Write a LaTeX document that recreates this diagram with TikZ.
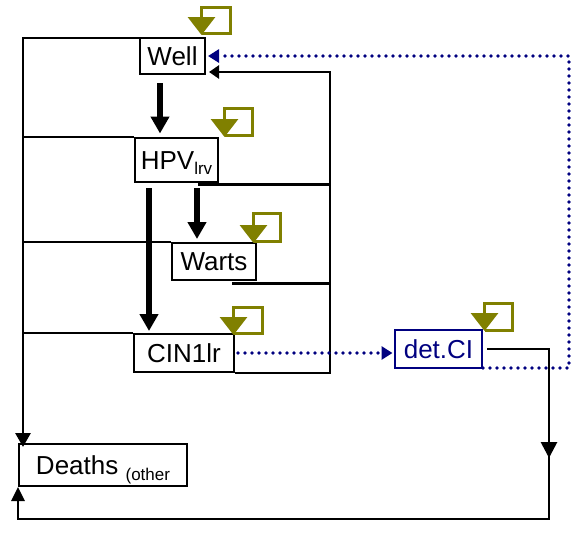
\documentclass[tikz,border=0pt]{standalone}
\usepackage{fontspec}
\setmainfont{Liberation Sans}
\usetikzlibrary{arrows.meta,decorations.markings,calc}
\definecolor{loopolive}{RGB}{128,128,0}
\definecolor{dnavy}{RGB}{0,0,128}
\begin{document}
\begin{tikzpicture}[x=1pt,y=-1pt,
  box/.style={draw=black, line width=2pt, fill=white, inner sep=0pt,
    font=\fontsize{26}{30}\selectfont, text height=18.6pt, text depth=0pt},
  bigarrow/.style={line width=5.5pt, -{Triangle[width=18pt,length=17pt]}},
  conn/.style={line width=2.8pt, line join=miter},
  connarrow/.style={conn, -{Triangle[width=15pt,length=14pt]}},
  retarrow/.style={conn, -{Triangle[width=13pt,length=10pt]}},
  dotline/.style={draw=dnavy, color=dnavy, line width=3.6pt, line cap=round,
    dash pattern=on 0pt off 7pt, -{Triangle[width=13pt,length=11pt]}},
  selfloop/.style={draw=loopolive, color=loopolive, line width=3.2pt, line join=miter,
    -{Triangle[width=27pt,length=18pt]}}
]
\useasboundingbox (0,0) rectangle (586,533);

% boxes
\node[box, minimum width=65pt, minimum height=36pt] (well) at (172.5,56) {Well};
\node[box, minimum width=83pt, minimum height=44pt] (hpv) at (176.5,160)
  {HPV\raisebox{-5pt}{\fontsize{17}{17}\selectfont lrv}};
\node[box, minimum width=84pt, minimum height=37pt] (warts) at (214,261.5) {Warts};
\node[box, minimum width=100pt, minimum height=38pt] (cin) at (184,353) {CIN1lr};
\node[box, draw=dnavy, text=dnavy, minimum width=87pt, minimum height=38pt] (det) at (438.5,349) {det.CI};
\node[box, minimum width=168pt, minimum height=42pt] (deaths) at (103,465)
  {Deaths \raisebox{-6pt}{\fontsize{17}{17}\selectfont (other}};

% helper coordinates
\coordinate (lx) at (23,0);
\coordinate (rx) at (330,0);
\coordinate (rd) at (569,0);
\coordinate (rb) at (549,519);
\coordinate (dtop) at ([yshift=-4pt]deaths.north);
\coordinate (wret) at ([xshift=3pt,yshift=-16pt]well.east);
\coordinate (hb) at ([xshift=21.5pt,yshift=-1.5pt]hpv.south);
\coordinate (wb) at ([xshift=-25pt,yshift=-2.5pt]warts.south east);
\coordinate (dsb) at ([yshift=1pt]det.south east);

% thick progression arrows
\draw[bigarrow] ([xshift=-12.5pt,yshift=-8pt]well.south) -- ([xshift=-16.5pt,yshift=3.5pt]hpv.north);
\draw[bigarrow] ([xshift=20.5pt,yshift=-5pt]hpv.south) -- ([xshift=-17pt,yshift=3pt]warts.north);
\draw[bigarrow] ([xshift=-27.5pt,yshift=-5pt]hpv.south) -- ([xshift=-35pt,yshift=2pt]cin.north);

% deaths from other causes (left)
\draw[connarrow] ([yshift=-1pt]well.north west) -| (dtop -| lx);
\draw[conn] (hpv.north west) -- (hpv.north west -| lx);
\draw[conn] (warts.north west) -- (warts.north west -| lx);
\draw[conn] (cin.north west) -- (cin.north west -| lx);

% return to Well (right)
\draw[retarrow] (cin.south east) -| (wret -| rx) -- (wret);
\draw[conn] (hb) -- (hb -| rx);
\draw[conn] (wb) -- (wb -| rx);

% det.CI to Deaths
\draw[conn, -{Triangle[width=13pt,length=14pt]},
  postaction={decorate, decoration={markings,
    mark=at position 171pt with {\arrow{Triangle[width=16pt,length=16pt]}}}}]
  ([xshift=4pt]det.east) -| (rb) -| (deaths.south west);

% dotted detection paths
\draw[dotline, shorten <=3pt, shorten >=1.5pt] (cin.east) -- (cin.east -| det.west);
\draw[dotline] (dsb) -| (well.east -| rd) -- ([xshift=2pt]well.east);

% self loops
\draw[selfloop] (201.5,33.5) -- (230.5,33.5) -- (230.5,7.5) -- (201.5,7.5) -- (201.5,35);
\draw[selfloop] (224.5,135.5) -- (252.5,135.5) -- (252.5,108.5) -- (224.5,108.5) -- (224.5,137);
\draw[selfloop] (253.5,241.5) -- (280.5,241.5) -- (280.5,213.5) -- (253.5,213.5) -- (253.5,243);
\draw[selfloop] (233.5,333.5) -- (262.5,333.5) -- (262.5,307.5) -- (233.5,307.5) -- (233.5,335);
\draw[selfloop] (484.5,330.5) -- (512.5,330.5) -- (512.5,303.5) -- (484.5,303.5) -- (484.5,331);
\end{tikzpicture}
\end{document}
